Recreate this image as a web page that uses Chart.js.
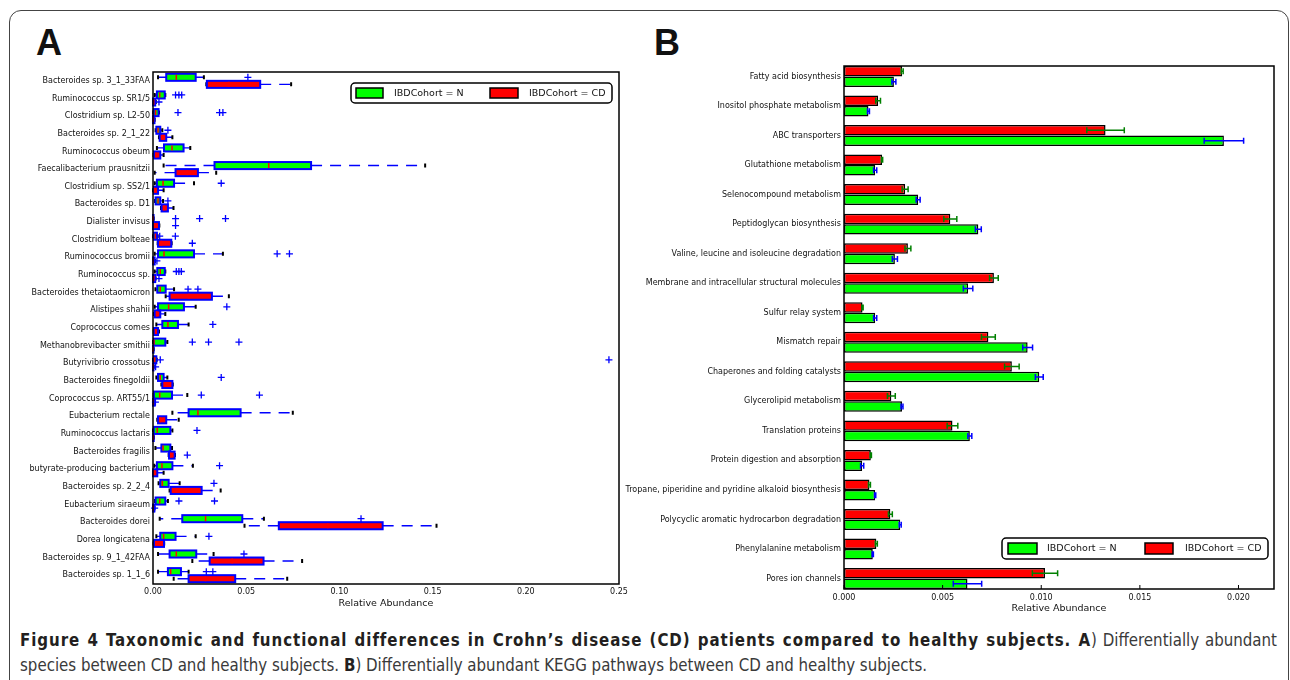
<!DOCTYPE html>
<html>
<head>
<meta charset="utf-8">
<script src="https://cdn.jsdelivr.net/npm/chart.js@4.4.0/dist/chart.umd.min.js"></script>
<style>
body { margin: 0; width: 1290px; height: 680px; overflow: hidden; background: #fff; position: relative; }
#frame { position: absolute; left: 9px; top: 10px; width: 1278px; height: 720px; border: 1px solid #444; border-radius: 12px; }
.panel { position: absolute; top: 0; height: 620px; }
#boxWrap { left: 0; width: 640px; }
#barWrap { left: 600px; width: 690px; }
.tag { position: absolute; top: 25px; font: bold 36px/36px "Liberation Sans", Arial, sans-serif; color: #111; }
#caption { position: absolute; left: 20px; top: 627px; font-family: "Liberation Sans Narrow", "DejaVu Sans Condensed", sans-serif; font-size: 18px; line-height: 25px; color: #3a3a3a; white-space: nowrap; }
#caption div { transform-origin: 0 0; }
#caption b { color: #231f20; }
</style>
</head>
<body>
<div id="frame"></div>
<div class="tag" style="left:36px">A</div>
<div class="tag" style="left:654px">B</div>
<div class="panel" id="barWrap"><canvas id="barChart"></canvas></div>
<div class="panel" id="boxWrap"><canvas id="boxChart"></canvas></div>
<div id="caption">
  <div id="cap1"><b id="bold1">Figure 4 Taxonomic and functional differences in Crohn’s disease (CD) patients compared to healthy subjects. A</b>) Differentially abundant</div>
  <div id="cap2">species between CD and healthy subjects. <b>B</b>) Differentially abundant KEGG pathways between CD and healthy subjects.</div>
</div>
<script>
// ---- Panel A data (boxplots) ----
const species = ['Bacteroides sp. 3_1_33FAA', 'Ruminococcus sp. SR1/5', 'Clostridium sp. L2-50', 'Bacteroides sp. 2_1_22',
  'Ruminococcus obeum', 'Faecalibacterium prausnitzii', 'Clostridium sp. SS2/1', 'Bacteroides sp. D1', 'Dialister invisus',
  'Clostridium bolteae', 'Ruminococcus bromii', 'Ruminococcus sp.', 'Bacteroides thetaiotaomicron', 'Alistipes shahii',
  'Coprococcus comes', 'Methanobrevibacter smithii', 'Butyrivibrio crossotus', 'Bacteroides finegoldii', 'Coprococcus sp. ART55/1',
  'Eubacterium rectale', 'Ruminococcus lactaris', 'Bacteroides fragilis', 'butyrate-producing bacterium', 'Bacteroides sp. 2_2_4',
  'Eubacterium siraeum', 'Bacteroides dorei', 'Dorea longicatena', 'Bacteroides sp. 9_1_42FAA', 'Bacteroides sp. 1_1_6'];

// healthy (N)
const nLo  = [.0027,.0009,.0001,.0014,.0021,.0057,.0009,.0011,0,0,.0009,.0009,.0013,.0009,.0018,0,0,.0018,.0003,.0104,0,.0013,.0007,.003,.0011,.0036,.0018,.0027,.0027];
const nQ1  = [.0071,.0021,.0004,.0018,.0059,.033,.0021,.0014,0,.0004,.0027,.0023,.0023,.0027,.005,.0004,.0004,.0027,.0005,.0191,.0004,.0045,.0021,.0039,.0014,.0157,.0039,.0089,.008];
const nMed = [.0125,.0036,.0014,.0027,.0102,.0621,.0054,.0027,0,.0013,.0059,.0039,.0039,.0084,.008,.0005,.0009,.0039,.0036,.0241,.0023,.0054,.0048,.005,.0036,.0282,.0057,.0125,.0095];
const nQ3  = [.0229,.0063,.003,.0039,.0164,.0848,.0113,.0039,.0003,.0021,.022,.0063,.0068,.0166,.0134,.0066,.0018,.0057,.0102,.047,.0093,.0093,.0104,.0084,.0066,.0479,.0121,.0232,.015];
const nHi  = [.0273,.0066,.0032,.005,.02,.146,.022,.0054,.0004,.0025,.0375,.0066,.0113,.0229,.0191,.0077,.002,.0077,.0184,.075,.0104,.0102,.0214,.0143,.008,.0595,.0229,.0325,.0191];
const nOut = [[.0509],[.0121,.0139,.0154],[.0134,.0357,.0375],[.008],[],[],[.0366],[.008],[.0121,.025,.0389],[.0036,.012],
  [.0666,.0732],[.0125,.0139,.0152],[.0188,.0241],[.0396],[.0321],[.0211,.0298,.0461],[.0039,.2446],[.0366],[.0259,.0571],[],
  [.0236],[],[.0357],[.0327],[.0139,.033],[.1116],[.03],[.0488],[.0286,.0321]];

// Crohn's disease (CD)
const cdLo  = [.0286,0,0,.0032,.0003,.0009,0,.0043,0,.0025,0,0,.0068,.0005,.0004,0,0,.0045,0,.0023,0,.0084,0,.0089,0,.0491,.0003,.0211,.0111];
const cdQ1  = [.0289,0,0,.0036,.0005,.0121,.0004,.0046,0,.0027,0,0,.0089,.0009,.0005,0,0,.005,0,.0027,0,.0086,0,.0095,0,.0675,.0005,.0304,.0191];
const cdMed = [.0407,.0003,.0002,.0054,.0018,.0184,.0009,.0059,.0007,.0045,.0002,.0003,.0193,.0021,.0014,0,0,.008,.0002,.0039,.0002,.0095,.0005,.0161,.0002,.0938,.0036,.0425,.0282];
const cdQ3  = [.0575,.0012,.0008,.0071,.0039,.0241,.0027,.008,.0032,.0098,.0009,.0012,.0316,.0039,.0027,.0003,.0003,.0104,.0009,.0071,.0004,.0116,.0023,.0261,.0007,.1232,.0059,.0593,.0441];
const cdHi  = [.0741,.0015,.0009,.0104,.0057,.0339,.0057,.011,.0034,.01,.001,.0014,.0407,.0066,.0032,.0004,.0004,.0106,.001,.0138,.0005,.0118,.0057,.0363,.0008,.1521,.006,.08,.072];
const cdOut = [[],[.0032],[],[],[],[],[],[],[.0121],[.0211],[.0021],[.0032],[],[],[],[],[.0014],[],[.0013],[],[],[.0184],[],[],[.0009],[],[],[],[]];

const boxTicks = [0, 0.05, 0.10, 0.15, 0.20, 0.25];

// ---- Panel B data (mean relative abundance with error) ----
const pathways = ['Fatty acid biosynthesis', 'Inositol phosphate metabolism', 'ABC transporters', 'Glutathione metabolism',
  'Selenocompound metabolism', 'Peptidoglycan biosynthesis', 'Valine, leucine and isoleucine degradation',
  'Membrane and intracellular structural molecules', 'Sulfur relay system', 'Mismatch repair', 'Chaperones and folding catalysts',
  'Glycerolipid metabolism', 'Translation proteins', 'Protein digestion and absorption',
  'Tropane, piperidine and pyridine alkaloid biosynthesis', 'Polycyclic aromatic hydrocarbon degradation',
  'Phenylalanine metabolism', 'Pores ion channels'];
const cdMean = [.00295,.00173,.01326,.00193,.0031,.00539,.00324,.0076,.00094,.00732,.00851,.0024,.0055,.00136,.00129,.00235,.00164,.01019];
const cdErr  = [.00005,.00012,.00095,.00003,.00015,.00033,.00015,.00022,.00003,.00035,.00037,.0002,.00027,.00003,.00005,.0001,.00005,.00064];
const nMean  = [.00253,.00124,.01926,.00158,.00376,.00681,.00258,.00629,.00158,.00931,.0099,.00294,.00638,.00092,.00158,.00285,.00146,.00626];
const nErr   = [.0001,.00005,.001,.00008,.0001,.00015,.00013,.00024,.00008,.00025,.0002,.00005,.0001,.00008,.00003,.00005,.00003,.00072];
const barTicks = [0, 0.005, 0.010, 0.015, 0.020];

const GREEN = '#00ff00', RED = '#ff0000', BLUE = '#0000ff';
Chart.defaults.font.family = 'DejaVu Sans';
Chart.defaults.color = '#111';

function drawLegend(ctx, x, y, w, h, items) {
  ctx.save();
  ctx.lineWidth = 1.5;
  ctx.strokeStyle = '#000';
  ctx.fillStyle = '#fff';
  ctx.beginPath();
  ctx.roundRect(x, y, w, h, 4);
  ctx.fill();
  ctx.stroke();
  ctx.font = '9.5px "DejaVu Sans"';
  ctx.textBaseline = 'middle';
  items.forEach(it => {
    ctx.fillStyle = it.color;
    ctx.fillRect(x + it.sx, y + it.sy, it.sw, it.sh);
    ctx.strokeRect(x + it.sx, y + it.sy, it.sw, it.sh);
    ctx.fillStyle = '#111';
    ctx.fillText(it.label, x + it.tx, y + h / 2 + 0.5);
  });
  ctx.restore();
}

const framePlugin = {
  id: 'frame',
  afterDraw(chart) {
    const a = chart.chartArea, ctx = chart.ctx;
    ctx.save();
    ctx.strokeStyle = '#000';
    ctx.lineWidth = 1.5;
    ctx.strokeRect(a.left, a.top, a.right - a.left, a.bottom - a.top);
    ctx.restore();
  }
};

// whiskers, caps, box edges, medians, fliers for panel A
const boxPlugin = {
  id: 'boxParts',
  beforeDatasetsDraw(chart) {
    const ctx = chart.ctx, x = chart.scales.x;
    ctx.save();
    chart.data.datasets.forEach((ds, d) => {
      const s = ds.stats;
      chart.getDatasetMeta(d).data.forEach((el, i) => {
        const y = el.y;
        const lo = x.getPixelForValue(s.lo[i]), q1 = x.getPixelForValue(s.q1[i]);
        const q3 = x.getPixelForValue(s.q3[i]), hi = x.getPixelForValue(s.hi[i]);
        ctx.strokeStyle = BLUE;
        ctx.lineWidth = 1.4;
        ctx.setLineDash([11, 8]);
        ctx.beginPath();
        ctx.moveTo(q3, y); ctx.lineTo(hi, y);
        ctx.moveTo(q1, y); ctx.lineTo(lo, y);
        ctx.stroke();
        ctx.setLineDash([]);
        ctx.strokeStyle = '#000';
        ctx.lineWidth = 2;
        ctx.beginPath();
        ctx.moveTo(lo, y - 2); ctx.lineTo(lo, y + 2);
        ctx.moveTo(hi, y - 2); ctx.lineTo(hi, y + 2);
        ctx.stroke();
      });
    });
    ctx.restore();
  },
  afterDatasetsDraw(chart) {
    const ctx = chart.ctx, x = chart.scales.x;
    ctx.save();
    chart.data.datasets.forEach((ds, d) => {
      const s = ds.stats;
      chart.getDatasetMeta(d).data.forEach((el, i) => {
        const y = el.y, h = el.height;
        const q1 = x.getPixelForValue(s.q1[i]), q3 = x.getPixelForValue(s.q3[i]);
        const med = x.getPixelForValue(s.med[i]);
        ctx.strokeStyle = BLUE;
        ctx.lineWidth = 2;
        ctx.strokeRect(q1, y - h / 2, q3 - q1, h);
        ctx.strokeStyle = RED;
        ctx.lineWidth = 1.5;
        ctx.beginPath();
        ctx.moveTo(med, y - h / 2 + 1); ctx.lineTo(med, y + h / 2 - 1);
        ctx.stroke();
        ctx.strokeStyle = BLUE;
        ctx.lineWidth = 1.3;
        s.out[i].forEach(v => {
          const px = x.getPixelForValue(v);
          ctx.beginPath();
          ctx.moveTo(px - 3.5, y); ctx.lineTo(px + 3.5, y);
          ctx.moveTo(px, y - 3.5); ctx.lineTo(px, y + 3.5);
          ctx.stroke();
        });
      });
    });
    const a = chart.chartArea;
    drawLegend(ctx, a.right - 268, a.top + 11, 261, 20, [
      { label: 'IBDCohort = N', color: GREEN, sx: 5, sy: 5, sw: 27, sh: 10, tx: 43 },
      { label: 'IBDCohort = CD', color: RED, sx: 139, sy: 5, sw: 28, sh: 10, tx: 178 }
    ]);
    ctx.restore();
  }
};

// error bars + legend for panel B
const errPlugin = {
  id: 'errBars',
  afterDatasetsDraw(chart) {
    const ctx = chart.ctx, x = chart.scales.x;
    ctx.save();
    chart.data.datasets.forEach((ds, d) => {
      ctx.strokeStyle = ds.errColor;
      ctx.lineWidth = 1.5;
      chart.getDatasetMeta(d).data.forEach((el, i) => {
        const v = ds.data[i].x, e = ds.err[i], y = el.y;
        const l = x.getPixelForValue(v - e), r = x.getPixelForValue(v + e);
        ctx.beginPath();
        ctx.moveTo(l, y); ctx.lineTo(r, y);
        ctx.moveTo(l, y - 3); ctx.lineTo(l, y + 3);
        ctx.moveTo(r, y - 3); ctx.lineTo(r, y + 3);
        ctx.stroke();
      });
    });
    const a = chart.chartArea;
    ctx.strokeStyle = '#000';
    ctx.lineWidth = 1;
    barTicks.forEach(t => {
      const px = x.getPixelForValue(t);
      ctx.beginPath();
      ctx.moveTo(px, a.bottom); ctx.lineTo(px, a.bottom - 4);
      ctx.stroke();
    });
    drawLegend(ctx, a.right - 272, a.bottom - 51, 266, 21, [
      { label: 'IBDCohort = N', color: GREEN, sx: 6, sy: 5, sw: 29, sh: 11, tx: 45 },
      { label: 'IBDCohort = CD', color: RED, sx: 143, sy: 5, sw: 28, sh: 11, tx: 183 }
    ]);
    ctx.restore();
  }
};

new Chart(document.getElementById('boxChart'), {
  type: 'bar',
  data: {
    labels: species,
    datasets: [
      { label: 'IBDCohort = N', data: nQ1.map((v, i) => [v, nQ3[i]]), backgroundColor: GREEN, borderWidth: 0,
        stats: { lo: nLo, q1: nQ1, med: nMed, q3: nQ3, hi: nHi, out: nOut } },
      { label: 'IBDCohort = CD', data: cdQ1.map((v, i) => [v, cdQ3[i]]), backgroundColor: RED, borderWidth: 0,
        stats: { lo: cdLo, q1: cdQ1, med: cdMed, q3: cdQ3, hi: cdHi, out: cdOut } }
    ]
  },
  options: {
    indexAxis: 'y',
    responsive: true,
    maintainAspectRatio: false,
    animation: false,
    categoryPercentage: 0.8,
    barPercentage: 1,
    layout: { padding: { top: 72, right: 21, bottom: 11, left: 0 } },
    plugins: { legend: { display: false }, tooltip: { enabled: false } },
    scales: {
      x: {
        min: 0, max: 0.25,
        grid: { display: false, drawTicks: false },
        border: { display: false },
        afterBuildTicks: s => { s.ticks = boxTicks.map(v => ({ value: v })); },
        afterFit: s => { s.height = 25; },
        ticks: { font: { size: 8 }, padding: 3, maxRotation: 0, callback: v => v.toFixed(2) },
        title: { display: true, text: 'Relative Abundance', font: { size: 9.5 }, padding: 0 }
      },
      y: {
        grid: { display: false, drawTicks: false },
        border: { display: false },
        afterFit: s => { s.width = 153; },
        ticks: { font: { size: 8 }, padding: 3, autoSkip: false }
      }
    }
  },
  plugins: [boxPlugin, framePlugin]
});

new Chart(document.getElementById('barChart'), {
  type: 'bar',
  data: {
    datasets: [
      { label: 'IBDCohort = CD', data: cdMean.map((v, i) => ({ x: v, y: i })), err: cdErr, errColor: '#008000',
        backgroundColor: RED, borderColor: '#000', borderWidth: 1.5, borderSkipped: false },
      { label: 'IBDCohort = N', data: nMean.map((v, i) => ({ x: v, y: i })), err: nErr, errColor: BLUE,
        backgroundColor: GREEN, borderColor: '#000', borderWidth: 1.5, borderSkipped: false }
    ]
  },
  options: {
    indexAxis: 'y',
    responsive: true,
    maintainAspectRatio: false,
    animation: false,
    categoryPercentage: 0.71,
    barPercentage: 1,
    layout: { padding: { top: 66, right: 16, bottom: 6, left: 0 } },
    plugins: { legend: { display: false }, tooltip: { enabled: false } },
    scales: {
      x: {
        type: 'linear',
        min: 0, max: 0.0218,
        grid: { display: false, drawTicks: false },
        border: { display: false },
        afterBuildTicks: s => { s.ticks = barTicks.map(v => ({ value: v })); },
        afterFit: s => { s.height = 25; },
        ticks: { font: { size: 8 }, padding: 4, maxRotation: 0, callback: v => v.toFixed(3) },
        title: { display: true, text: 'Relative Abundance', font: { size: 9.5 }, padding: 0 }
      },
      y: {
        type: 'linear',
        min: -0.354, max: 17.354,
        reverse: true,
        offset: false,
        grid: { display: false, drawTicks: false, offset: false },
        border: { display: false },
        afterBuildTicks: s => { s.ticks = pathways.map((p, i) => ({ value: i })); },
        afterFit: s => { s.width = 244; },
        ticks: { font: { size: 8 }, padding: 3, autoSkip: false, callback: v => pathways[v] }
      }
    }
  },
  plugins: [errPlugin, framePlugin]
});

// caption: regular text condensed to the reference width, bold run of line 1 spaced out to its width
const cap1 = document.getElementById('cap1'), cap2 = document.getElementById('cap2');
const bold1 = document.getElementById('bold1');
[cap1, cap2].forEach(el => { el.style.display = 'inline-block'; });
const k = 907 / cap2.getBoundingClientRect().width;
const bw = bold1.getBoundingClientRect().width;
bold1.style.letterSpacing = ((1055 / k - bw) / bold1.textContent.length) + 'px';
const w1 = cap1.getBoundingClientRect().width;
const gaps = cap1.textContent.trim().split(/\s+/).length - 1;
const extra = (1257 / k - w1) / gaps;
if (Math.abs(extra) > 0.1) cap1.style.wordSpacing = extra + 'px';
[cap1, cap2].forEach(el => { el.style.transform = 'scaleX(' + k + ')'; el.style.display = 'block'; });
</script>
</body>
</html>
